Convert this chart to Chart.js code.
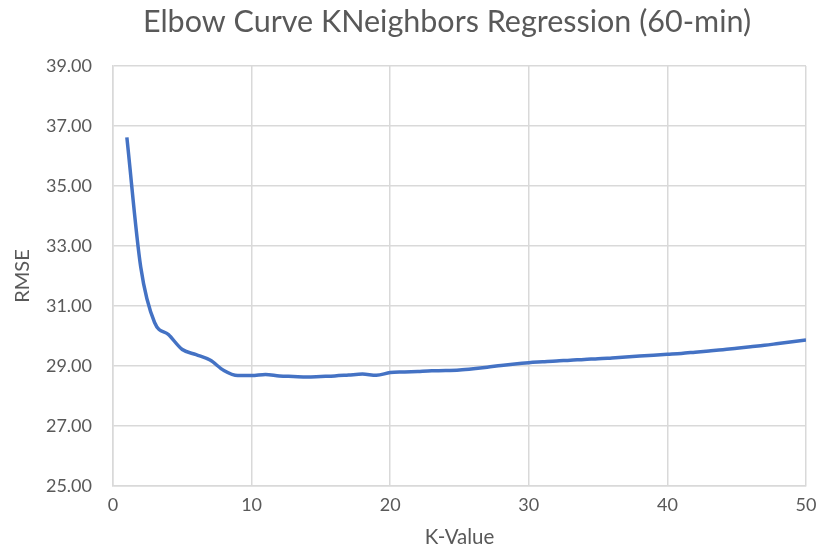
<!DOCTYPE html>
<html>
<head>
<meta charset="utf-8">
<script src="https://cdn.jsdelivr.net/npm/chart.js@4/dist/chart.umd.min.js"></script>
<style>
  html, body { margin: 0; padding: 0; background: #fff; }
  #wrap { width: 819px; height: 551px; }
</style>
</head>
<body>
<div id="wrap"><canvas id="graficaCodo"></canvas></div>
<script>
// Datos: K-Value vs RMSE
const kValues = [1, 2, 3, 4, 5, 6, 7, 8, 9, 10, 11, 12, 13, 14, 15, 16, 17, 18, 19, 20,
  21, 22, 23, 24, 25, 26, 27, 28, 29, 30, 31, 32, 33, 34, 35, 36, 37, 38, 39, 40,
  41, 42, 43, 44, 45, 46, 47, 48, 49, 50];
const rmseValues = [36.62, 32.3, 30.45, 30.05, 29.55, 29.38, 29.2, 28.85, 28.68, 28.68,
  28.72, 28.67, 28.65, 28.63, 28.65, 28.67, 28.7, 28.73, 28.69, 28.78,
  28.8, 28.82, 28.84, 28.85, 28.87, 28.91, 28.96, 29.02, 29.07, 29.11,
  29.14, 29.17, 29.19, 29.22, 29.24, 29.27, 29.3, 29.33, 29.36, 29.39,
  29.42, 29.46, 29.5, 29.54, 29.59, 29.64, 29.69, 29.75, 29.81, 29.87];
const xTicks = [0, 10, 20, 30, 40, 50];
const yTicks = [25, 27, 29, 31, 33, 35, 37, 39];
const tituloTexto = "Elbow Curve KNeighbors Regression (60-min)";

const gris = "#595959";
const fuente = "Lato, 'Open Sans', sans-serif";

// Titulo dibujado a mano: en Excel queda centrado un poco a la derecha
const tituloPlugin = {
  id: "tituloExcel",
  afterDraw(chart) {
    const ctx = chart.ctx;
    ctx.save();
    ctx.fillStyle = gris;
    ctx.font = "30.5px " + fuente;
    ctx.textAlign = "center";
    ctx.textBaseline = "alphabetic";
    ctx.fillText(tituloTexto, 447, 32);
    ctx.restore();
  },
};

function crearGrafica() {
  const ctx = document.getElementById("graficaCodo").getContext("2d");
  new Chart(ctx, {
    type: "line",
    data: {
      datasets: [
        {
          label: "RMSE",
          data: kValues.map((k, i) => ({ x: k, y: rmseValues[i] })),
          borderColor: "#4472C4",
          borderWidth: 3.5,
          pointRadius: 0,
          tension: 0.4,
          cubicInterpolationMode: "monotone",
          fill: false,
        },
      ],
    },
    options: {
      responsive: true,
      maintainAspectRatio: false,
      animation: false,
      layout: { padding: { left: 8, right: 13, top: 66, bottom: 0 } },
      scales: {
        x: {
          type: "linear",
          min: 0,
          max: 50,
          afterBuildTicks: (axis) => { axis.ticks = xTicks.map((v) => ({ value: v })); },
          afterFit: (axis) => {
            axis.height = 65;
            axis.paddingRight = 0;
            axis.paddingLeft = 0;
          },
          ticks: { color: gris, font: { family: fuente, size: 18 }, padding: 8 },
          grid: { color: "#d9d9d9", lineWidth: 1.5, drawTicks: false },
          border: { color: "#d9d9d9", width: 1.5 },
          title: { display: true, text: "K-Value", color: gris, font: { family: fuente, size: 20.5 }, padding: { top: 0, bottom: 1 } },
        },
        y: {
          min: 25,
          max: 39,
          afterBuildTicks: (axis) => { axis.ticks = yTicks.map((v) => ({ value: v })); },
          afterFit: (axis) => { axis.width = 105; },
          ticks: {
            color: gris,
            font: { family: fuente, size: 18 },
            padding: 21,
            callback: (v) => v.toFixed(2),
          },
          grid: { color: "#d9d9d9", lineWidth: 1.5, drawTicks: false },
          border: { color: "#d9d9d9", width: 1.5 },
          title: { display: true, text: "RMSE", color: gris, font: { family: fuente, size: 20 }, padding: { top: 2.5, bottom: 0 } },
        },
      },
      plugins: {
        legend: { display: false },
        tooltip: { enabled: false },
        title: { display: false },
      },
    },
    plugins: [tituloPlugin],
  });
}

document.addEventListener("DOMContentLoaded", crearGrafica);
</script>
</body>
</html>
